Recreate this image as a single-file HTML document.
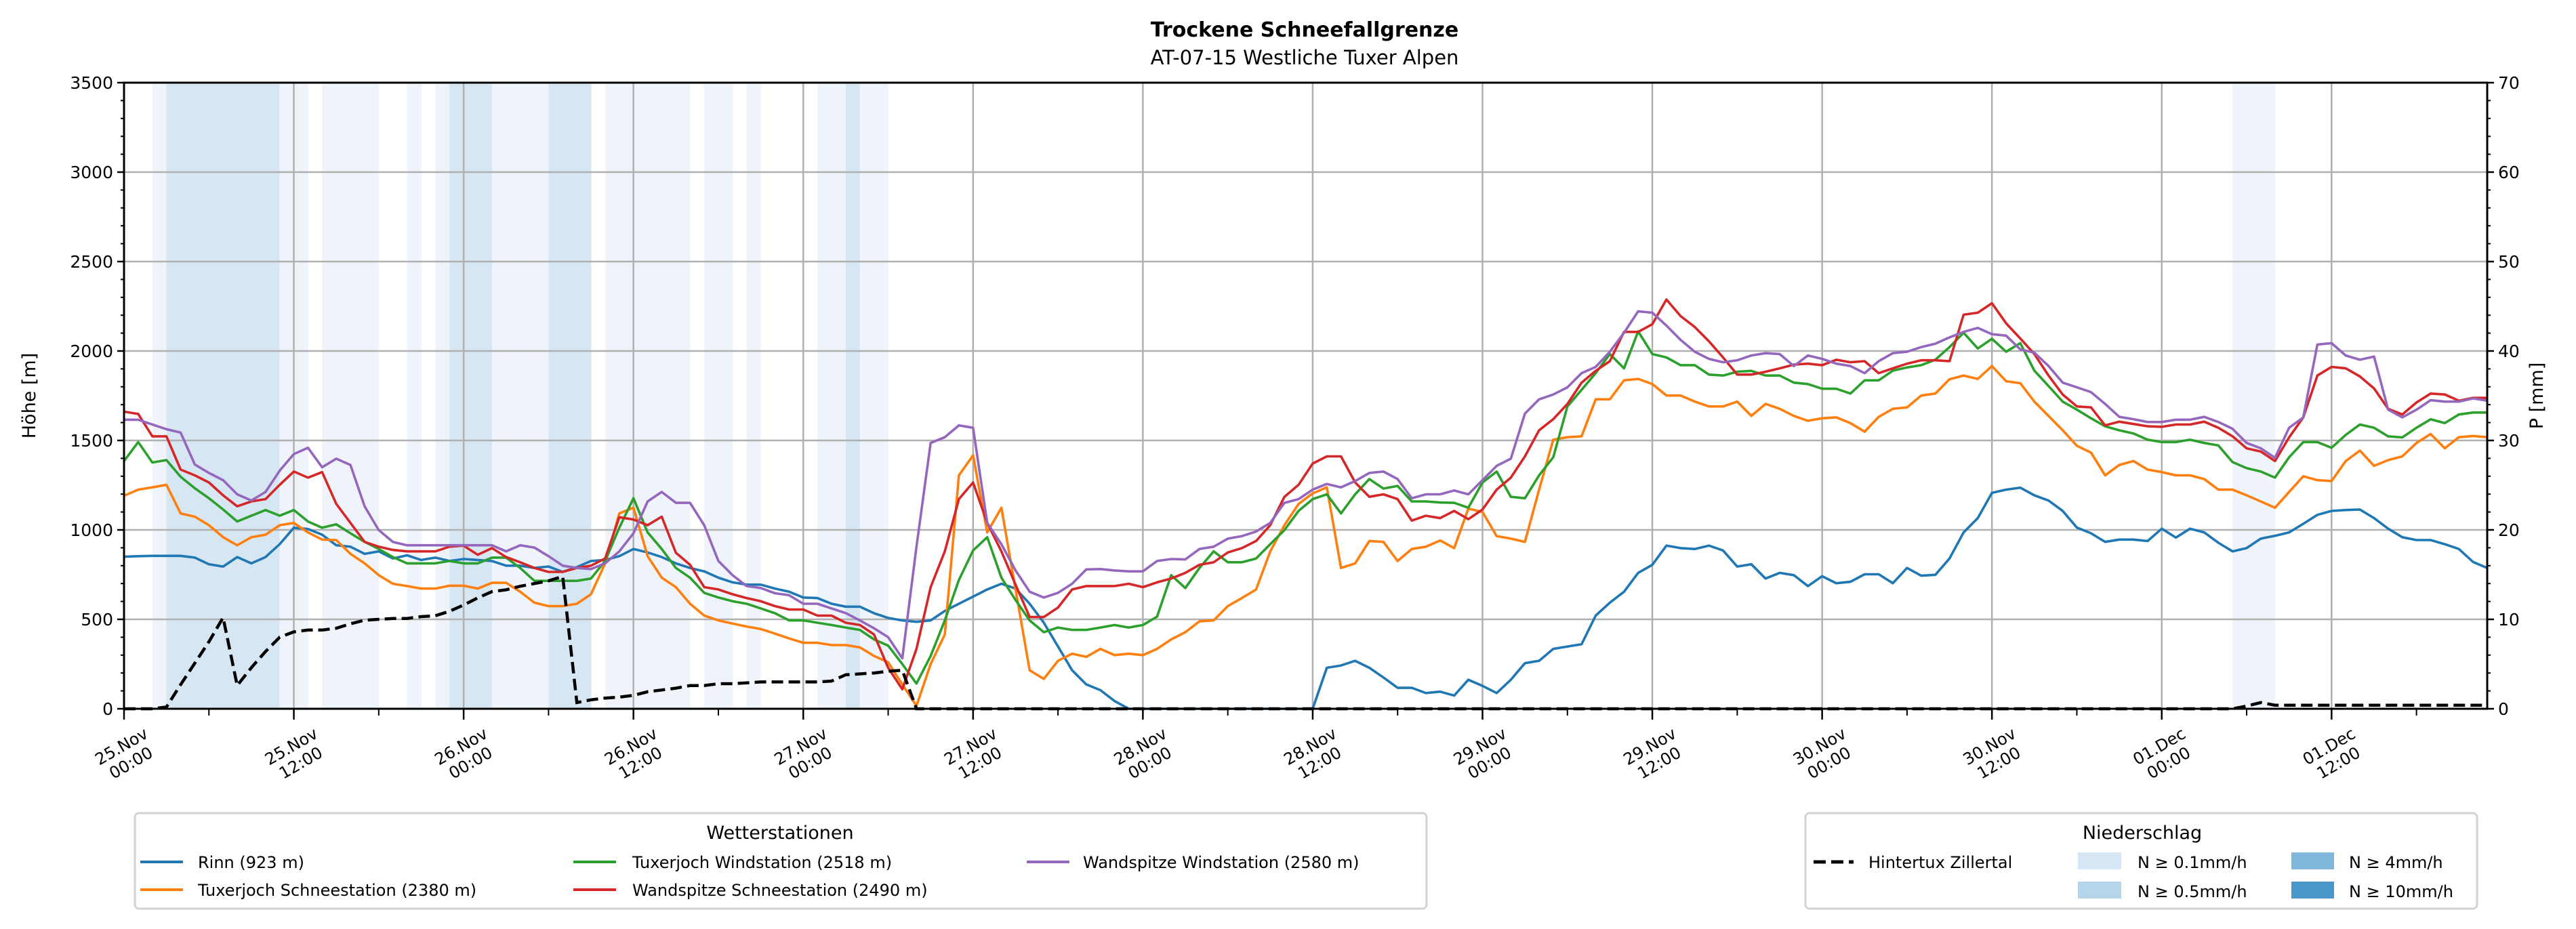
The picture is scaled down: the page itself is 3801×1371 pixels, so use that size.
<!DOCTYPE html>
<html><head><meta charset="utf-8"><style>
html,body{margin:0;padding:0;background:#fff;}
svg{display:block;font-family:"DejaVu Sans","Liberation Sans",sans-serif;}
</style></head><body>
<svg id="chart" xmlns="http://www.w3.org/2000/svg" width="3801" height="1371" viewBox="0 0 3801 1371">
<rect width="3801" height="1371" fill="#fff"/>
<text x="1925" y="54" text-anchor="middle" font-size="30" font-weight="bold">Trockene Schneefallgrenze</text>
<text x="1925" y="95" text-anchor="middle" font-size="29">AT-07-15 Westliche Tuxer Alpen</text>
<g id="bands"></g>
<g id="grid"></g>
<g id="series"></g>
<g id="axes"></g>
<text transform="translate(52,584) rotate(-90)" text-anchor="middle" font-size="27">Höhe [m]</text>
<text transform="translate(3752,584) rotate(-90)" text-anchor="middle" font-size="27">P [mm]</text>

<g>
<rect x="199" y="1200" width="1906" height="141" rx="6" fill="#fff" stroke="#d3d3d3" stroke-width="3"/>
<text x="1151" y="1238" text-anchor="middle" font-size="27">Wetterstationen</text>
<g><line x1="207" y1="1272" x2="270" y2="1272" stroke="#1f77b4" stroke-width="4"/><text x="292" y="1281" font-size="24">Rinn (923 m)</text></g>
<g><line x1="207" y1="1313" x2="270" y2="1313" stroke="#ff7f0e" stroke-width="4"/><text x="292" y="1322" font-size="24">Tuxerjoch Schneestation (2380 m)</text></g>
<g><line x1="846" y1="1272" x2="909" y2="1272" stroke="#2ca02c" stroke-width="4"/><text x="933" y="1281" font-size="24">Tuxerjoch Windstation (2518 m)</text></g>
<g><line x1="846" y1="1313" x2="909" y2="1313" stroke="#d62728" stroke-width="4"/><text x="933" y="1322" font-size="24">Wandspitze Schneestation (2490 m)</text></g>
<g><line x1="1515" y1="1272" x2="1578" y2="1272" stroke="#9467bd" stroke-width="4"/><text x="1598" y="1281" font-size="24">Wandspitze Windstation (2580 m)</text></g>
</g>

<g>
<rect x="2664" y="1200" width="991" height="141" rx="6" fill="#fff" stroke="#d3d3d3" stroke-width="3"/>
<text x="3161" y="1238" text-anchor="middle" font-size="27">Niederschlag</text>
<g><line x1="2676" y1="1272" x2="2735" y2="1272" stroke="#000" stroke-width="5" stroke-dasharray="18,8"/><text x="2757" y="1281" font-size="24">Hintertux Zillertal</text></g>
<g><rect x="3066" y="1258" width="64" height="25" fill="#d6e6f4"/><text x="3154" y="1281" font-size="24">N ≥ 0.1mm/h</text></g>
<g><rect x="3066" y="1301" width="64" height="25" fill="#b6d4ea"/><text x="3154" y="1324" font-size="24">N ≥ 0.5mm/h</text></g>
<g><rect x="3381" y="1258" width="63" height="25" fill="#7fb7da"/><text x="3466" y="1281" font-size="24">N ≥ 4mm/h</text></g>
<g><rect x="3381" y="1301" width="63" height="25" fill="#4a97c9"/><text x="3466" y="1324" font-size="24">N ≥ 10mm/h</text></g>
</g>
</svg>
<script>
const tickLabels1 = ["25.Nov","25.Nov","26.Nov","26.Nov","27.Nov","27.Nov","28.Nov","28.Nov","29.Nov","29.Nov","30.Nov","30.Nov","01.Dec","01.Dec"];
const tickLabels2 = ["00:00","12:00","00:00","12:00","00:00","12:00","00:00","12:00","00:00","12:00","00:00","12:00","00:00","12:00"];
const yTicks = [0,500,1000,1500,2000,2500,3000,3500];
const y2Ticks = [0,10,20,30,40,50,60,70];
// precipitation hours and level (1 >=0.1, 2 >=0.5)
const precipHour  = [2,3,4,5,6,7,8,9,10,11,12,14,15,16,17,20,22,23,24,25,26,27,28,29,30,31,32,34,35,36,37,38,39,41,42,44,49,50,51,52,53,149,150,151];
const precipLevel = [1,2,2,2,2,2,2,2,2, 1, 1, 1, 1, 1, 1, 1, 1, 2, 2, 2, 1, 1, 1, 1, 2, 2, 2, 1, 1, 1, 1, 1, 1, 1, 1, 1, 1, 1, 2, 1, 1,  1,  1,  1];
const rinn = [850,853,855,855,855,845,808,795,848,813,848,920,1012,1005,973,914,906,866,880,840,858,832,845,826,837,832,826,800,800,787,795,765,792,826,832,853,893,874,848,813,787,768,733,707,694,694,672,654,622,619,587,571,571,534,508,494,486,494,547,587,627,667,699,672,587,481,348,215,136,104,43,0,0,0,0,0,0,0,0,0,0,0,0,0,0,229,242,268,229,175,117,117,88,96,74,162,128,88,162,255,268,335,348,361,521,593,654,760,805,912,898,893,912,885,795,808,728,760,747,686,741,
702,710,752,752,702,787,744,749,840,986,1066,1207,1225,1236,1193,1164,1106,1013,981,933,946,946,938,1007,957,1007,986,928,880,898,951,967,986,1034,1084,1106,1111,1114,1066,1007,959,943,943,920,893,821,787];
const tuxSchnee = [1191,1225,1238,1252,1092,1074,1026,959,914,959,973,1026,1039,986,946,943,866,813,747,699,686,672,672,688,688,672,704,704,654,593,574,574,587,640,813,1092,1124,853,733,680,587,521,494,476,460,446,420,393,369,369,356,356,343,295,260,136,16,250,415,1305,1417,986,1124,667,215,167,268,308,290,335,300,308,300,335,388,428,489,494,574,619,667,880,1026,1145,1204,1238,787,813,938,933,826,893,906,941,898,1119,1100,965,951,933,1225,1504,1518,1523,1730,1730,1836,1844,1815,1751,1751,1717,1690,1690,1717,1637,1704,1677,1637,1610,1624,
1629,1597,1549,1632,1677,1685,1751,1762,1842,1863,1844,1916,1831,1820,1717,1637,1557,1470,1432,1305,1363,1385,1337,1323,1305,1305,1284,1225,1225,1193,1159,1124,1212,1300,1278,1273,1385,1443,1358,1390,1411,1486,1536,1456,1518,1525,1518];
const tuxWind = [1385,1491,1377,1390,1297,1233,1177,1114,1047,1079,1111,1079,1111,1047,1012,1031,981,933,893,848,813,813,813,826,813,813,845,845,787,715,715,715,715,728,826,1012,1177,986,893,787,733,648,622,601,587,561,534,494,494,481,468,454,441,388,353,250,141,295,494,720,885,959,733,608,494,428,454,441,441,454,468,454,468,515,747,675,787,880,819,819,840,920,999,1106,1172,1199,1092,1199,1284,1231,1246,1159,1159,1153,1151,1124,1265,1326,1185,1177,1305,1406,1690,1783,1876,1983,1903,2110,1983,1964,1921,1921,1868,1863,1884,1889,1863,1863,1823,1815,1789,
1789,1762,1836,1836,1890,1908,1921,1951,2022,2102,2014,2068,1996,2044,1890,1804,1717,1672,1624,1579,1557,1539,1504,1491,1491,1504,1486,1472,1379,1345,1326,1292,1406,1491,1491,1459,1531,1589,1571,1523,1517,1571,1618,1597,1645,1656,1656];
const wandSchnee = [1661,1648,1523,1523,1337,1305,1265,1193,1132,1159,1172,1252,1326,1292,1323,1145,1039,933,906,888,880,880,880,906,912,861,898,848,819,787,765,765,787,800,840,1071,1058,1026,1074,872,805,680,667,640,619,601,574,555,555,521,521,481,468,415,229,109,335,680,880,1172,1265,1039,880,694,513,513,566,667,686,686,686,699,680,707,728,760,805,819,874,898,938,1026,1185,1252,1371,1411,1411,1265,1185,1199,1172,1052,1079,1066,1106,1060,1114,1225,1292,1411,1557,1619,1704,1823,1889,1943,2107,2107,2150,2288,2195,2134,2054,1964,1868,1868,1884,1903,1924,1929,1921,
1951,1937,1943,1876,1903,1929,1948,1948,1943,2203,2214,2267,2155,2070,1983,1863,1757,1690,1685,1584,1605,1592,1579,1576,1589,1589,1605,1571,1523,1456,1438,1385,1517,1629,1863,1911,1903,1858,1791,1677,1645,1712,1762,1757,1722,1738,1738];
const wandWind = [1616,1616,1589,1563,1544,1366,1318,1278,1199,1164,1212,1331,1424,1459,1350,1398,1363,1132,999,933,914,914,914,914,914,914,914,880,914,901,853,800,787,781,813,880,981,1159,1212,1151,1151,1026,826,747,686,675,646,635,587,587,561,535,494,450,400,282,906,1486,1518,1584,1571,1039,920,773,654,622,648,699,779,781,773,768,768,826,837,835,893,906,951,965,991,1039,1151,1172,1225,1257,1238,1273,1318,1326,1284,1177,1199,1199,1220,1199,1278,1358,1398,1650,1730,1757,1797,1876,1911,1996,2102,2222,2214,2142,2062,1996,1956,1937,1948,1975,1988,1983,1916,1975,1956,
1929,1916,1876,1943,1988,1996,2022,2041,2076,2107,2129,2094,2086,2009,1991,1916,1823,1797,1770,1704,1632,1619,1603,1603,1616,1616,1632,1603,1565,1486,1456,1403,1571,1629,2036,2044,1975,1951,1969,1672,1629,1672,1725,1717,1717,1735,1722];
const hintertux = [0,0,0,0.2,2.7,5.1,7.5,10.2,2.6,4.6,6.4,8.0,8.6,8.8,8.8,9.0,9.5,9.9,10.0,10.1,10.1,10.3,10.4,10.9,11.6,12.4,13.1,13.3,13.7,14.0,14.3,14.8,0.7,1.0,1.2,1.3,1.5,1.9,2.1,2.3,2.6,2.6,2.8,2.8,2.9,3.0,3.0,3.0,3.0,3.0,3.1,3.8,3.9,4.0,4.2,4.3,0,
0,0,0,0,0,0,0,0,0,0,0,0,0,0,0,0,0,0,0,0,0,0,0,0,0,0,0,0,0,0,0,0,0,0,0,0,0,0,0,0,0,0,0,0,0,0,0,0,0,0,0,0,0,0,0,0,0,0,0,0,0,0,0,0,0,0,0,0,0,0,0,0,0,0,0,0,0,0,0,0,0,0,0,0,0,0,0,0,0,0,0,0,0,0.3,0.7,0.4,0.4,0.4,0.4,0.4,0.4,0.4,0.4,0.4,0.4,0.4,0.4,0.4,0.4,0.4,0.4];

const NS="http://www.w3.org/2000/svg";
const X0=183, X1=3670, Y0=1046, Y1=122, HOURS=167;
const xs = h => X0 + h*(X1-X0)/HOURS;
const ys = v => Y0 - v*(Y0-Y1)/3500;
const ys2 = v => Y0 - v*(Y0-Y1)/70;
function mk(tag, attrs, parent){const e=document.createElementNS(NS,tag);for(const k in attrs)e.setAttribute(k,attrs[k]);parent.appendChild(e);return e;}
const bands=document.getElementById('bands'), grid=document.getElementById('grid'), series=document.getElementById('series'), axes=document.getElementById('axes');
const bandColors=[null,"#eef4fa","#d7e6f3"];
precipHour.forEach((h,i)=>{
  const r=mk('rect',{x:xs(h),y:Y1,width:Math.min(xs(h+1),X1)-xs(h)+0.5,height:Y0-Y1,fill:bandColors[precipLevel[i]]},bands);
  
  
});
yTicks.forEach(v=>{ if(v>0){const l=mk('line',{x1:X0,x2:X1,y1:ys(v),y2:ys(v),stroke:'#b0b0b0','stroke-width':2.5},grid);
  
  }});
tickLabels1.forEach((t,i)=>{ const x=xs(i*12); if(i>0){const l=mk('line',{x1:x,x2:x,y1:Y1,y2:Y0,stroke:'#b0b0b0','stroke-width':2.5},grid);
  
  }});
const cols={rinn:'#1f77b4',tuxSchnee:'#ff7f0e',tuxWind:'#2ca02c',wandSchnee:'#d62728',wandWind:'#9467bd'};
[['rinn',rinn],['tuxSchnee',tuxSchnee],['tuxWind',tuxWind],['wandSchnee',wandSchnee],['wandWind',wandWind]].forEach(([n,d])=>{
  const p=mk('polyline',{points:d.map((v,i)=>xs(i).toFixed(1)+','+ys(v).toFixed(1)).join(' '),fill:'none',stroke:cols[n],'stroke-width':3.6,'stroke-linejoin':'round'},series);
  
  
});
const dl=mk('polyline',{points:hintertux.map((v,i)=>xs(i).toFixed(1)+','+ys2(v).toFixed(1)).join(' '),fill:'none',stroke:'#000','stroke-width':4.5,'stroke-dasharray':'17,8'},series);


const fr=mk('rect',{x:X0,y:Y1,width:X1-X0,height:Y0-Y1,fill:'none',stroke:'#000','stroke-width':3},axes);


yTicks.forEach(v=>{ mk('line',{x1:X0-10,x2:X0,y1:ys(v),y2:ys(v),stroke:'#000','stroke-width':2.5},axes);
  const t=mk('text',{x:X0-16,y:ys(v)+9,'text-anchor':'end','font-size':25},axes); t.textContent=v;
  
  });
for(let v=0;v<=3500;v+=100) mk('line',{x1:X0-5,x2:X0,y1:ys(v),y2:ys(v),stroke:'#000','stroke-width':2},axes);
y2Ticks.forEach(v=>{ mk('line',{x1:X1,x2:X1+10,y1:ys2(v),y2:ys2(v),stroke:'#000','stroke-width':2.5},axes);
  const t=mk('text',{x:X1+16,y:ys2(v)+9,'font-size':25},axes); t.textContent=v;
  
  });
for(let v=0;v<=70;v+=2) mk('line',{x1:X1,x2:X1+5,y1:ys2(v),y2:ys2(v),stroke:'#000','stroke-width':2},axes);
for(let h=6;h<168;h+=12) mk('line',{x1:xs(h),x2:xs(h),y1:Y0,y2:Y0+10,stroke:'#000','stroke-width':2},axes);
tickLabels1.forEach((t,i)=>{ const x=xs(i*12);
  mk('line',{x1:x,x2:x,y1:Y0,y2:Y0+16,stroke:'#000','stroke-width':2.5},axes);
  const g=mk('g',{transform:`translate(${x+30},${1080}) rotate(-30)`},axes);
  
  
  const a=mk('text',{x:-40,y:10,'text-anchor':'middle','font-size':24},g); a.textContent=t;
  const b=mk('text',{x:-40,y:38,'text-anchor':'middle','font-size':24},g); b.textContent=tickLabels2[i];
});
</script>
</body></html>
